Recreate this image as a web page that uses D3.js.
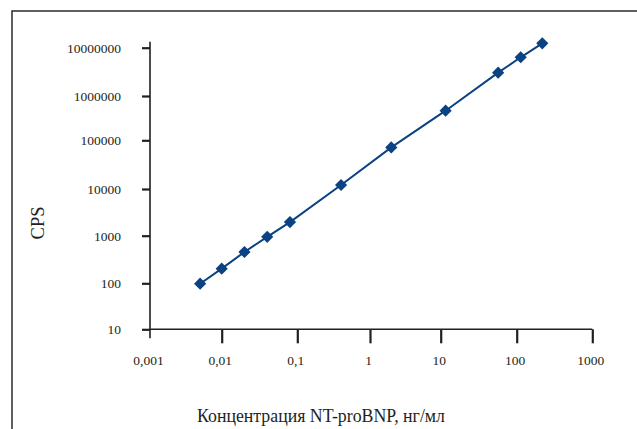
<!DOCTYPE html>
<html>
<head>
<meta charset="utf-8">
<script src="https://cdn.jsdelivr.net/npm/d3@7"></script>
<style>
  html, body { margin: 0; padding: 0; background: #fff; }
  svg { display: block; }
  text { font-family: "Liberation Serif", "DejaVu Serif", serif; fill: #231f20; }
</style>
</head>
<body>
<svg id="chart" width="637" height="429"></svg>
<script>
// Calibration curve: NT-proBNP concentration (ng/ml) vs. signal (CPS)
const concentration = [0.005, 0.01, 0.02, 0.04, 0.08, 0.4, 2, 11.6, 57, 113, 218];
const cps = [98, 203, 455, 945, 1960, 12100, 71500, 466000, 3040000, 6330000, 12300000];

const xTicks = [0.001, 0.01, 0.1, 1, 10, 100, 1000];
const xTickLabels = ["0,001", "0,01", "0,1", "1", "10", "100", "1000"];
const yTicks = [10, 100, 1000, 10000, 100000, 1000000, 10000000];
const yTickLabels = ["10", "100", "1000", "10000", "100000", "1000000", "10000000"];

const xTitle = "Концентрация NT-proBNP, нг/мл";
const yTitle = "CPS";

const lineColor = "#0a4282";
const axisColor = "#231f20";

const svg = d3.select("#chart");

// Outer frame (open to the right and bottom of the page)
svg.append("rect")
  .attr("x", 12).attr("y", 11)
  .attr("width", 660).attr("height", 460)
  .attr("fill", "none")
  .attr("stroke", "#2b2b2b")
  .attr("stroke-width", 1.5);

// Log scales, one segment per decade
const x = d3.scaleLog()
  .domain(xTicks)
  .range([150, 221.7, 297.3, 370, 440.7, 516.7, 592.3]);
const y = d3.scaleLog()
  .domain(yTicks)
  .range([329.3, 283.3, 235.7, 189, 140.3, 96, 47.7]);

const x0 = x(xTicks[0]);
const y0 = y(yTicks[0]);

// Y axis
const yAxis = svg.append("g")
  .attr("transform", `translate(${x0},0)`)
  .call(d3.axisLeft(y)
    .tickValues(yTicks)
    .tickSize(8)
    .tickPadding(0)
    .tickFormat((d, i) => yTickLabels[i]));
yAxis.select(".domain").remove();
yAxis.selectAll(".tick line")
  .attr("stroke", axisColor)
  .attr("stroke-width", 2.2);
yAxis.selectAll(".tick text")
  .attr("x", 121 - x0)
  .attr("dy", "0.34em")
  .attr("text-anchor", "end")
  .style("font-size", "13.5px")
  .style("font-family", "'Liberation Serif', serif")
  .attr("fill", "#231f20");
svg.append("line")
  .attr("x1", x0).attr("x2", x0)
  .attr("y1", 41.7).attr("y2", y0 + 9)
  .attr("stroke", axisColor)
  .attr("stroke-width", 1.6);

// X axis
const xAxis = svg.append("g")
  .attr("transform", `translate(0,${y0})`)
  .call(d3.axisBottom(x)
    .tickValues(xTicks)
    .tickSize(14)
    .tickPadding(0)
    .tickFormat((d, i) => xTickLabels[i]));
xAxis.select(".domain").remove();
xAxis.selectAll(".tick line")
  .attr("stroke", axisColor)
  .attr("stroke-width", 2.2)
  .filter(d => d === xTicks[0]).remove();
xAxis.selectAll(".tick text")
  .attr("y", 36)
  .attr("dy", 0)
  .attr("dx", -2)
  .style("font-size", "13.5px")
  .style("font-family", "'Liberation Serif', serif")
  .attr("fill", "#231f20");
svg.append("line")
  .attr("x1", x0).attr("x2", x(xTicks[xTicks.length - 1]))
  .attr("y1", y0).attr("y2", y0)
  .attr("stroke", axisColor)
  .attr("stroke-width", 1.6);

// Series line
const points = concentration.map((c, i) => [c, cps[i]]);
svg.append("path")
  .datum(points)
  .attr("fill", "none")
  .attr("stroke", lineColor)
  .attr("stroke-width", 2)
  .attr("d", d3.line().x(d => x(d[0])).y(d => y(d[1])));

// Diamond markers
svg.append("g")
  .selectAll("path")
  .data(points)
  .join("path")
  .attr("d", d3.symbol().type(d3.symbolSquare).size(74))
  .attr("transform", d => `translate(${x(d[0])},${y(d[1])}) rotate(45)`)
  .attr("fill", lineColor);

// Axis titles
svg.append("text")
  .attr("x", 321).attr("y", 421.5)
  .attr("text-anchor", "middle")
  .attr("textLength", 248)
  .attr("lengthAdjust", "spacingAndGlyphs")
  .style("font-size", "19px")
  .text(xTitle);

svg.append("text")
  .attr("transform", "translate(43.5,223) rotate(-90)")
  .attr("text-anchor", "middle")
  .style("font-size", "18.5px")
  .text(yTitle);
</script>
</body>
</html>
